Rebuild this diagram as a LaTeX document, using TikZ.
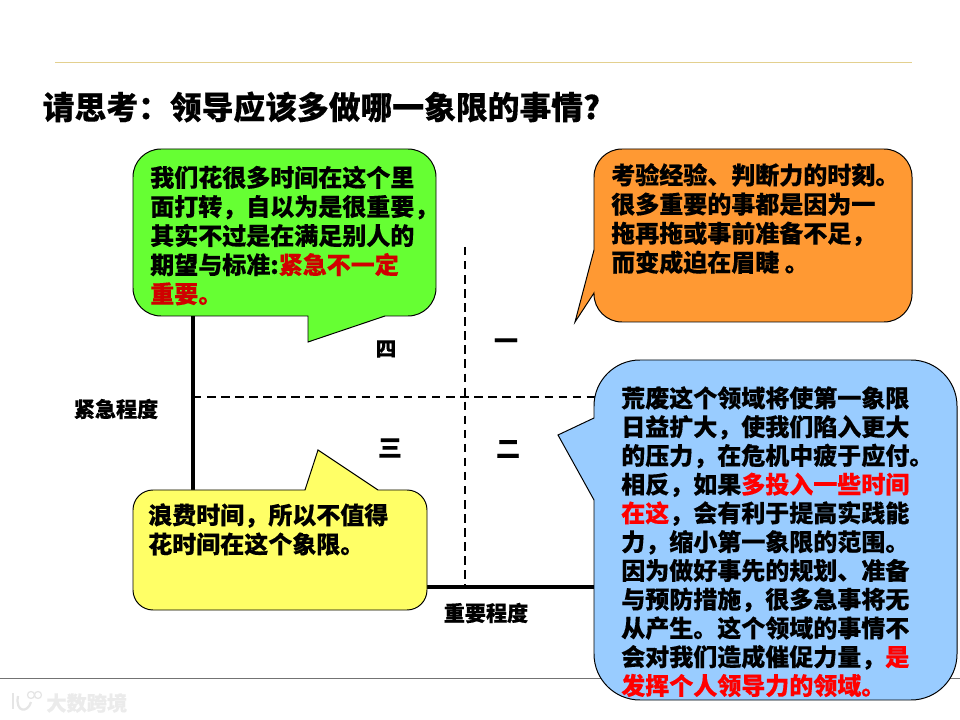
\documentclass[tikz,border=0pt]{standalone}
\usepackage{fontspec}
\usepackage{xcolor}
\setmainfont{Noto Sans CJK SC}[BoldFeatures={FakeBold=0.35}]
\definecolor{calloutgreen}{HTML}{66FF33}
\definecolor{calloutorange}{HTML}{FF9933}
\definecolor{calloutblue}{HTML}{99CCFF}
\definecolor{calloutyellow}{HTML}{FFFF66}
\definecolor{ruletan}{HTML}{E3D08F}
\definecolor{darkred}{HTML}{D00000}
\tikzset{
  callout/.style={draw=black, line width=0.7pt},
  bodytext/.style={anchor=north west, align=left, inner sep=0pt, font=\fontsize{17.07}{20.45}\selectfont\bfseries},
  axislabel/.style={inner sep=0pt, font=\fontsize{15}{18}\selectfont\bfseries},
  quadrant/.style={inner sep=0pt, font=\fontsize{17}{20}\selectfont\bfseries},
  axisline/.style={line width=2.2pt},
  gridline/.style={dashed, dash pattern=on 6pt off 4pt, line width=0.8pt},
  markmark/.style={text=black!8, inner sep=0pt, font=\fontsize{14.4}{18}\selectfont\bfseries}
}
\begin{document}
\begin{tikzpicture}[x=0.025cm, y=-0.025cm]
        \useasboundingbox (0, 0) rectangle (960, 720);

        \coordinate (topl) at (55, 62);
        \coordinate (topr) at (912, 62);
        \coordinate (botl) at (0, 678);
        \coordinate (botr) at (960, 678);
        \draw[ruletan, line width=0.7pt] (topl) -- (topr);
        \draw[black!55, line width=0.7pt] (botl) -- (botr);

        \node[anchor=west, inner sep=0pt, font=\fontsize{22.6}{26}\selectfont\bfseries] (title) at (42.5, 107) {请思考：领导应该多做哪一象限的事情?};

        \coordinate (origin) at (193, 587);
        \coordinate (ytop) at (193, 300);
        \coordinate (xend) at (610, 587);
        \coordinate (vtop) at (465, 247);
        \coordinate (vbot) at (465, 587);
        \coordinate (hleft) at (193, 397);
        \coordinate (hright) at (600, 397);
        \draw[axisline] (ytop) -- (origin);
        \draw[axisline] (origin) -- (xend);
        \draw[gridline] (vtop) -- (vbot);
        \draw[gridline] (hleft) -- (hright);

        \node[axislabel] (yname) at (116, 409) {紧急程度};
        \node[axislabel] (xname) at (486, 613) {重要程度};
        \node[quadrant, font=\fontsize{14.6}{16}\selectfont\bfseries] (q4) at (386, 349) {四};
        \node[quadrant] (q1) at (506, 344) {一};
        \node[quadrant] (q3) at (390, 448) {三};
        \node[quadrant] (q2) at (508, 449) {二};

        \draw[callout, fill=calloutgreen] (308, 316) [sharp corners] -- (308, 342) -- (385, 316)
            [rounded corners=0.7cm] -- (436, 316) -- (436, 149) -- (133, 149) -- (133, 316) [sharp corners] -- cycle;
        \draw[callout, fill=calloutorange] (594, 250) [sharp corners] -- (575, 322) -- (594, 293)
            [rounded corners=0.7cm] -- (594, 322) -- (912, 322) -- (912, 149) -- (594, 149) [sharp corners] -- cycle;
        \draw[callout, fill=calloutblue] (594, 418) [sharp corners] -- (558, 435) -- (594, 500)
            [rounded corners=1.15cm] -- (594, 700) -- (957, 700) -- (957, 360) -- (594, 360) [sharp corners] -- cycle;
        \draw[callout, fill=calloutyellow] (305, 490) [sharp corners] -- (318, 450) -- (378, 490)
            [rounded corners=0.5cm] -- (427, 490) -- (427, 610) -- (133, 610) -- (133, 490) [sharp corners] -- cycle;

        \node[bodytext, font=\fontsize{17.07}{20.7}\selectfont\bfseries] (greentext) at (150, 165.5) {我们花很多时间在这个里\\面打转，自以为是很重要，\\其实不过是在满足别人的\\期望与标准:\textcolor{darkred}{紧急不一定}\\\textcolor{darkred}{重要。}};
        \node[bodytext, font=\fontsize{17.07}{20.7}\selectfont\bfseries] (orangetext) at (611, 163) {考验经验、判断力的时刻。\\很多重要的事都是因为一\\拖再拖或事前准备不足，\\而变成迫在眉睫 。};
        \node[bodytext] (bluetext) at (621, 386) {荒废这个领域将使第一象限\\日益扩大，使我们陷入更大\\的压力，在危机中疲于应付。\\相反，如果\textcolor{red}{多投入一些时间}\\\textcolor{red}{在这}，会有利于提高实践能\\力，缩小第一象限的范围。\\因为做好事先的规划、准备\\与预防措施，很多急事将无\\从产生。这个领域的事情不\\会对我们造成催促力量，\textcolor{red}{是}\\\textcolor{red}{发挥个人领导力的领域。}};
        \node[bodytext, font=\fontsize{17.07}{20.7}\selectfont\bfseries] (yellowtext) at (148, 503) {浪费时间，所以不值得\\花时间在这个象限。};

        \node[markmark, anchor=west] (markname) at (46, 703) {大数跨境};
        \draw[black!10, line width=1.6pt] (13, 693) -- (13, 709);
        \draw[black!10, line width=1.6pt] (18, 696) .. controls (15, 713) and (28, 713) .. (31, 702);
        \draw[black!10, line width=0.9pt] (31, 695) circle (3.5);
        \draw[black!10, line width=0.9pt] (38, 695) circle (3.5);
\end{tikzpicture}
\end{document}
